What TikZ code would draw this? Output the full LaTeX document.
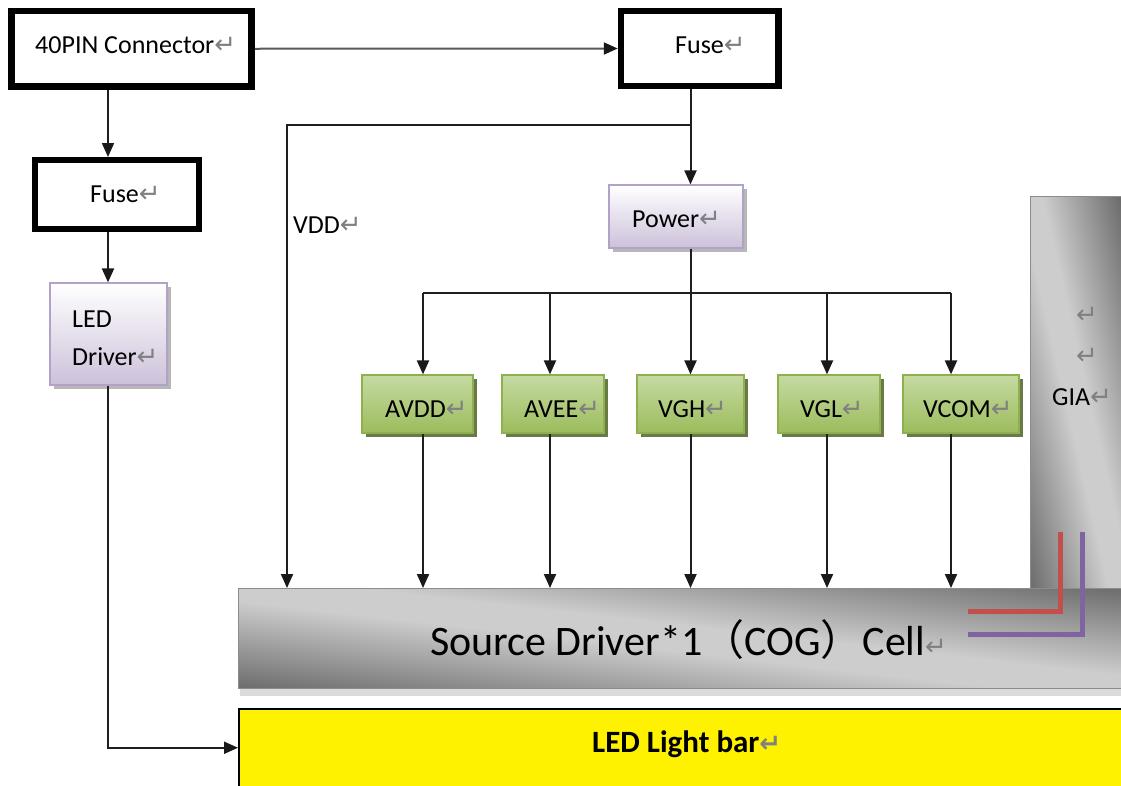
\documentclass[tikz,border=0pt]{standalone}
\usepackage{fontspec}
\setmainfont{Carlito}
\newfontfamily\cjkfont{Noto Sans CJK SC}
\newfontfamily\symfont{DejaVu Sans}
\usetikzlibrary{arrows.meta,shadows}
\definecolor{gtop}{HTML}{C6DAA2}
\definecolor{gbot}{HTML}{9CBC5C}
\definecolor{gdraw}{HTML}{8FB04E}
\definecolor{gshadow}{HTML}{4F6228}
\definecolor{ptop}{HTML}{FFFFFF}
\definecolor{pbot}{HTML}{CCC1DA}
\definecolor{pdraw}{HTML}{B3A2C7}
\definecolor{redline}{HTML}{C0504D}
\definecolor{purpline}{HTML}{8064A2}
\definecolor{gdark}{HTML}{636363}
\definecolor{glight}{HTML}{CDCDCD}
\pgfdeclareverticalshading{grayband}{100bp}{color(0bp)=(gdark); color(25bp)=(gdark); color(47bp)=(glight); color(53bp)=(glight); color(75bp)=(gdark); color(100bp)=(gdark)}
\newcommand\retm{{\symfont\fontsize{26}{26}\selectfont\color{black!50}↵}}
\begin{document}
\begin{tikzpicture}[x=1pt,y=-1pt,
  thickbox/.style={draw=black, line width=6.5pt, fill=white, inner sep=0pt},
  purplebox/.style={draw=pdraw, line width=1.2pt, top color=ptop, bottom color=pbot, inner sep=0pt,
    drop shadow={shadow xshift=4pt, shadow yshift=-4pt, fill=black!35, opacity=0.8}},
  greenbox/.style={draw=gdraw, line width=1.2pt, top color=gtop, bottom color=gbot, inner sep=0pt,
    minimum height=58pt,
    drop shadow={shadow xshift=3.5pt, shadow yshift=-3.5pt, fill=gshadow, opacity=0.85}},
  graybar/.style={draw=black!45, line width=1pt, inner sep=0pt},
  lbl/.style={inner sep=0pt, anchor=base west, font=\fontsize{26}{30}\selectfont},
  wire/.style={line width=2pt, draw=black!88},
  arr/.style={wire, -{Triangle[length=14pt,width=12pt,color=black!90]}}
]
\useasboundingbox (0,0) rectangle (1121,785);
\fill[white] (0,0) rectangle (1121,785);

% coordinates for connector columns
\coordinate (xL) at (108,0);
\coordinate (xP) at (690.5,0);
\coordinate (xV) at (287,0);
\coordinate (br) at (690.5,125);
\coordinate (busP) at (690.5,293);
\coordinate (b1) at (423,293);
\coordinate (b2) at (550,293);
\coordinate (b3) at (690.5,293);
\coordinate (b4) at (827,293);
\coordinate (b5) at (951,293);

% GIA bar
\begin{scope}
  \clip (1030,196) rectangle (1125,590);
  \shade[shading=grayband, transform canvas={shift={(1075.5,393)}, rotate=-77}] (-260,-95) rectangle (260,95);
\end{scope}
\node[graybar, minimum width=95pt, minimum height=394pt, anchor=north west] (gia) at (1030,196) {};
\node[inner sep=0pt, anchor=base west] (giaR1) at (1076,323) {\retm};
\node[inner sep=0pt, anchor=base west] (giaR2) at (1076,364) {\retm};
\node[lbl] (giaT) at (1052,405) {GIA\retm};

% Source driver cell
\fill[black!40, opacity=0.35] (240,686) rectangle (1125,696);
\begin{scope}
  \clip (238,588) rectangle (1125,688);
  \shade[shading=grayband, transform canvas={shift={(680,638)}, rotate=-6.5}] (-620,-108) rectangle (620,108);
\end{scope}
\node[graybar, minimum width=900pt, minimum height=100pt, anchor=north west] (src) at (238,588) {};
\node[inner sep=0pt, anchor=base west, font=\fontsize{42}{48}\selectfont] (srcT) at (430,655)
  {Source Driver*1{\cjkfont （}COG{\cjkfont ）}Cell\retm};

% red / purple lines
\draw[redline, line width=5pt] (1060,532) -- (1060,611) -- (968,611);
\draw[purpline, line width=5pt] (1082,532) -- (1082,634) -- (968,634);

% LED light bar
\node[draw=black, line width=1.5pt, fill=yellow, minimum width=900pt, minimum height=78pt,
  anchor=north west, inner sep=0pt] (ledbar) at (238,708) {};
\node[inner sep=0pt, anchor=base west, font=\fontsize{31}{36}\selectfont\bfseries] (ledbarT) at (592,752)
  {LED Light bar\retm};

% top boxes
\node[thickbox, minimum width=240pt, minimum height=75.5pt] (conn) at (131.5,48.75) {};
\node[lbl] (connT) at (35,53) {40PIN Connector\retm};
\node[thickbox, minimum width=157.5pt, minimum height=75pt] (fuse1) at (699.75,48.5) {};
\node[lbl] (fuse1T) at (675,53) {Fuse\retm};
\node[thickbox, line width=6pt, minimum width=163.5pt, minimum height=68.5pt] (fuse2) at (116.75,194.25) {};
\node[lbl] (fuse2T) at (90,202) {Fuse\retm};

\node[purplebox, minimum width=134pt, minimum height=63pt] (power) at (676,216.5) {};
\node[lbl] (powerT) at (632,227) {Power\retm};
\node[purplebox, minimum width=117pt, minimum height=102pt] (leddrv) at (108.5,334) {};
\node[lbl] (leddrvT1) at (72,327) {LED};
\node[lbl] (leddrvT2) at (72,365) {Driver\retm};

\node[lbl] (vddT) at (293,233) {VDD\retm};

% green boxes
\node[greenbox, minimum width=111pt] (avdd) at (417.5,404) {};
\node[lbl] (avddT) at (385,417) {AVDD\retm};
\node[greenbox, minimum width=102pt] (avee) at (553,404) {};
\node[lbl] (aveeT) at (524,417) {AVEE\retm};
\node[greenbox, minimum width=107pt] (vgh) at (690.5,404) {};
\node[lbl] (vghT) at (658,417) {VGH\retm};
\node[greenbox, minimum width=102pt] (vgl) at (829,404) {};
\node[lbl] (vglT) at (800,417) {VGL\retm};
\node[greenbox, minimum width=116pt] (vcom) at (961,404) {};
\node[lbl] (vcomT) at (923,417) {VCOM\retm};

% connectors
\draw[arr, draw=black!65] (conn.east) -- (fuse1.west);
\draw[arr] (conn.south -| xL) -- (fuse2.north -| xL);
\draw[arr] (fuse2.south -| xL) -- (leddrv.north -| xL);
\draw[arr] (leddrv.south -| xL) |- (ledbar.west);
\draw[arr] (fuse1.south -| xP) -- (power.north -| xP);
\draw[arr] (br) -| (src.north -| xV);
\draw[wire] (power.south -| xP) -- (busP);
\draw[wire] (b1) -- (b5);
\foreach \b/\n in {b1/avdd, b2/avee, b3/vgh, b4/vgl, b5/vcom}{
  \draw[arr] (\b) -- (\b |- \n.north);
  \draw[arr] (\b |- \n.south) -- (\b |- src.north);
}
\end{tikzpicture}
\end{document}
